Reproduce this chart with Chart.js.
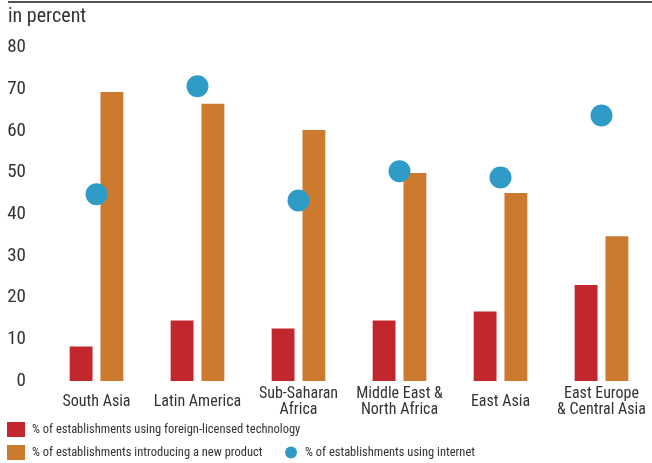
<!DOCTYPE html>
<html lang="en">
  <head>
    <meta charset="UTF-8" />
    <title>Innovation and technology by region</title>
    <script src="https://cdn.jsdelivr.net/npm/chart.js@4/dist/chart.umd.min.js"></script>
    <style>
      body { margin: 0; background: #fff; }
    </style>
  </head>
  <body>
    <canvas id="chart" width="652" height="463"></canvas>
    <script>
      var regions = [
        'South Asia',
        'Latin America',
        ['Sub-Saharan', 'Africa'],
        ['Middle East &', 'North Africa'],
        'East Asia',
        ['East Europe', '& Central Asia']
      ];
      var foreignTech = [8.3, 14.5, 12.6, 14.5, 16.7, 23.0];
      var newProduct = [69.3, 66.5, 60.2, 49.9, 45.1, 34.7];
      var internet = [44.8, 70.7, 43.3, 50.3, 48.8, 63.7];
      var yTicks = [0, 10, 20, 30, 40, 50, 60, 70, 80];

      var labels = [
        '% of establishments using foreign-licensed technology',
        '% of establishments introducing a new product',
        '% of establishments using internet'
      ];

      var RED = '#c1272d';
      var ORANGE = '#cc7b2e';
      var BLUE = '#2f9cc8';
      var TEXT = '#333333';
      var FONT = "'Liberation Sans Narrow', 'Roboto Condensed', Roboto, sans-serif";

      // top rule, unit label and the two-row legend
      var decorations = {
        id: 'decorations',
        afterDraw: function (chart) {
          var ctx = chart.ctx;
          ctx.save();
          ctx.strokeStyle = '#1a1a1a';
          ctx.lineWidth = 1.5;
          ctx.beginPath();
          ctx.moveTo(8, 2);
          ctx.lineTo(652, 2);
          ctx.stroke();

          ctx.fillStyle = TEXT;
          ctx.textBaseline = 'middle';
          ctx.textAlign = 'left';
          ctx.font = '20px ' + FONT;
          ctx.fillText('in percent', 8, 17);

          var ds = chart.data.datasets;
          ctx.font = '12.5px ' + FONT;
          ctx.fillStyle = ds[0].backgroundColor;
          ctx.fillRect(7, 422, 18, 15);
          ctx.fillStyle = TEXT;
          ctx.fillText(ds[0].label, 32, 430);

          ctx.fillStyle = ds[1].backgroundColor;
          ctx.fillRect(7, 445, 18, 15);
          ctx.fillStyle = TEXT;
          ctx.fillText(ds[1].label, 32, 453);

          ctx.fillStyle = ds[2].pointBackgroundColor;
          ctx.beginPath();
          ctx.arc(291, 452.5, 6, 0, Math.PI * 2);
          ctx.fill();
          ctx.fillStyle = TEXT;
          ctx.fillText(ds[2].label, 305, 453);
          ctx.restore();
        }
      };

      var chart = new Chart(document.getElementById('chart'), {
        type: 'bar',
        data: {
          labels: regions,
          datasets: [
            {
              label: labels[0],
              data: foreignTech,
              backgroundColor: RED,
              categoryPercentage: 0.61,
              barPercentage: 0.742,
              order: 1
            },
            {
              label: labels[1],
              data: newProduct,
              backgroundColor: ORANGE,
              categoryPercentage: 0.61,
              barPercentage: 0.742,
              order: 1
            },
            {
              type: 'line',
              label: labels[2],
              data: internet,
              showLine: false,
              pointRadius: 11,
              pointHoverRadius: 11,
              pointBorderWidth: 0,
              pointBackgroundColor: BLUE,
              borderColor: BLUE,
              clip: false,
              order: 0
            }
          ]
        },
        options: {
          responsive: false,
          animation: false,
          layout: {
            autoPadding: false,
            padding: { top: 47.5, left: 0, right: -3, bottom: 45 }
          },
          plugins: {
            legend: { display: false },
            tooltip: { enabled: false }
          },
          scales: {
            x: {
              grid: { display: false, drawTicks: false },
              border: { display: false },
              ticks: {
                color: TEXT,
                padding: 13,
                maxRotation: 0,
                autoSkip: false,
                crossAlign: 'center',
                font: { family: FONT, size: 16, lineHeight: 1 }
              },
              afterFit: function (scale) {
                scale.height = 37;
                scale.paddingLeft = 0;
                scale.paddingRight = 0;
              }
            },
            y: {
              min: 0,
              max: 80,
              afterBuildTicks: function (scale) {
                scale.ticks = yTicks.map(function (v) { return { value: v }; });
              },
              grid: { display: false, drawTicks: false },
              border: { display: false },
              ticks: {
                color: TEXT,
                padding: 20,
                font: { family: FONT, size: 19 }
              },
              afterFit: function (scale) { scale.width = 46; }
            }
          }
        },
        plugins: [decorations]
      });
    </script>
  </body>
</html>
